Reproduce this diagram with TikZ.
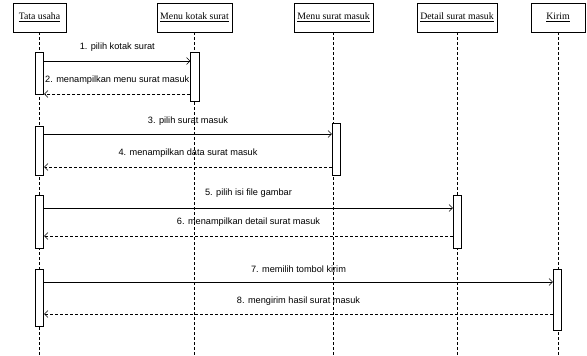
\documentclass[tikz,border=0pt]{standalone}
\usepackage{fontspec}
\setmainfont{Liberation Serif}
\setsansfont{Liberation Sans}
\usetikzlibrary{arrows.meta}
\begin{document}
\begin{tikzpicture}[x=1pt,y=-1pt,
  obj/.style={draw,line width=0.6pt,minimum height=29pt,inner sep=0pt,font=\fontsize{9.8}{11}\selectfont},
  act/.style={draw,fill=white,line width=0.6pt,minimum width=8.5pt,inner sep=0pt},
  life/.style={line width=0.6pt,dash pattern=on 3pt off 2pt},
  msg/.style={line width=0.6pt,-{Straight Barb[length=3.5pt,width=7pt]}},
  ret/.style={msg,dash pattern=on 3pt off 2pt},
  lbl/.style={font=\sffamily\fontsize{9.2}{11}\selectfont,inner sep=0pt}]
\useasboundingbox (0,0) rectangle (587,356);
% objects
\node[obj,minimum width=53pt] (tu) at (39.5,17.5) {\underline{Tata usaha}};
\node[obj,minimum width=75pt] (mk) at (194.5,17.5) {\underline{Menu kotak surat}};
\node[obj,minimum width=79pt] (ms) at (333.5,17.5) {\underline{Menu surat masuk}};
\node[obj,minimum width=80pt] (ds) at (457,17.5) {\underline{Detail surat masuk}};
\node[obj,minimum width=54pt] (ki) at (558,17.5) {\underline{Kirim}};
% lifelines
\coordinate (tuE) at (39.5,356);
\coordinate (mkE) at (194.5,356);
\coordinate (msE) at (333,356);
\coordinate (dsE) at (457,356);
\coordinate (kiE) at (558,356);
\draw[life] (tu.south -| tuE) -- (tuE);
\draw[life] (mk.south -| mkE) -- (mkE);
\draw[life] (ms.south -| msE) -- (msE);
\draw[life] (ds.south -| dsE) -- (dsE);
\draw[life] (ki.south -| kiE) -- (kiE);
% activations
\node[act,minimum height=42pt] (a1) at (39.5,73) {};
\node[act,minimum height=49pt] (b1) at (195,76.5) {};
\node[act,minimum height=49pt] (a2) at (39.5,150.5) {};
\node[act,minimum height=52pt] (c1) at (336.5,149) {};
\node[act,minimum height=53pt] (a3) at (39.5,221.5) {};
\node[act,minimum height=53pt] (d1) at (457.5,221.5) {};
\node[act,minimum height=57pt] (a4) at (39.5,297.5) {};
\node[act,minimum height=61pt] (e1) at (557.5,299.5) {};
% messages
\draw[msg] (a1.east |- 0,61) -- node[lbl,yshift=14pt]{1. pilih kotak surat} (b1.west |- 0,61);
\draw[ret] (b1.west |- 0,94) -- node[lbl,yshift=14pt]{2. menampilkan menu surat masuk} (a1.east |- 0,94);
\draw[msg] (a2.east |- 0,134) -- node[lbl,yshift=13pt]{3. pilih surat masuk} (c1.west |- 0,134);
\draw[ret] (c1.west |- 0,167) -- node[lbl,yshift=14pt]{4. menampilkan data surat masuk} (a2.east |- 0,167);
\draw[msg] (a3.east |- 0,208) -- node[lbl,yshift=15pt]{5. pilih isi file gambar} (d1.west |- 0,208);
\draw[ret] (d1.west |- 0,236) -- node[lbl,yshift=14pt]{6. menampilkan detail surat masuk} (a3.east |- 0,236);
\draw[msg] (a4.east |- 0,282) -- node[lbl,yshift=13pt]{7. memilih tombol kirim} (e1.west |- 0,282);
\draw[ret] (e1.west |- 0,314) -- node[lbl,yshift=13pt]{8. mengirim hasil surat masuk} (a4.east |- 0,314);
\end{tikzpicture}
\end{document}
